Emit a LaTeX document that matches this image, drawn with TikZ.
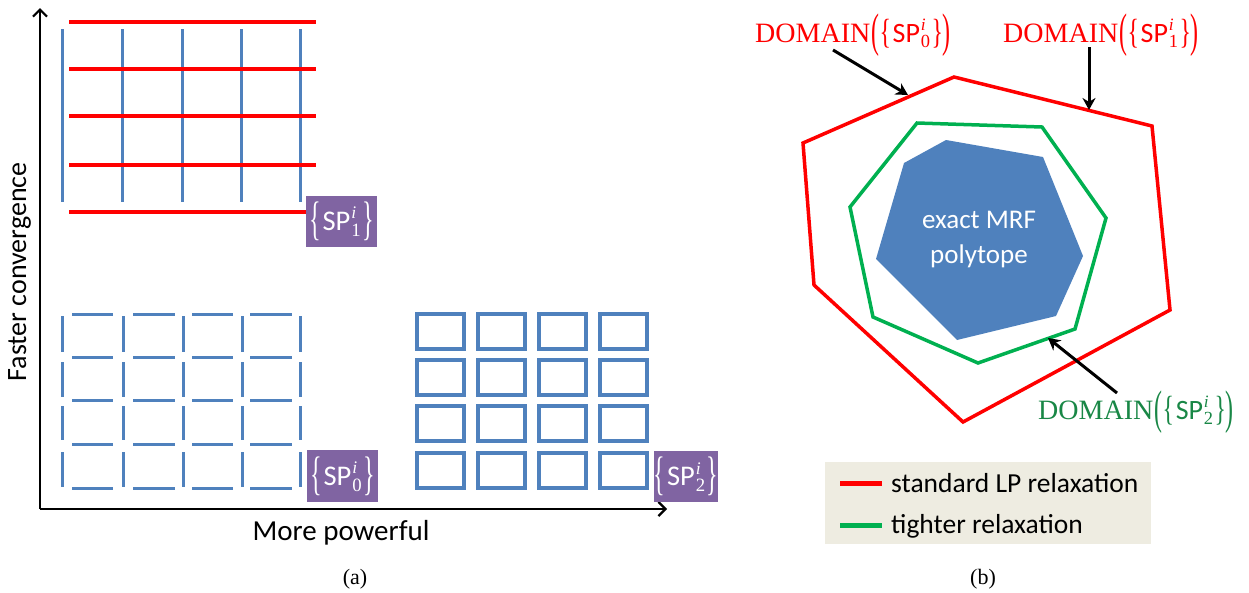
\documentclass[tikz,border=0pt]{standalone}
\usepackage{graphicx}
\usepackage{fontspec}
\setmainfont{Carlito}
\newfontfamily\tnr{Liberation Serif}
\usetikzlibrary{arrows.meta}
\definecolor{sred}{RGB}{255,0,0}
\definecolor{sblue}{RGB}{79,129,189}
\definecolor{spurple}{RGB}{128,100,162}
\definecolor{sgreen}{RGB}{0,176,80}
\definecolor{tgreen}{RGB}{25,135,70}
\definecolor{lgbg}{RGB}{238,236,225}
% stacked super/subscript
\newcommand\stk[1]{\rlap{\raisebox{0.42em}{\scalebox{0.62}{\tnr\itshape i}}}\raisebox{-0.2em}{\scalebox{0.66}{\tnr #1}}}
% tall thin delimiter: #1 vertical scale, #2 lowering, #3 glyph
\newcommand\tdel[3]{\raisebox{-#2em}{\scalebox{0.85}[#1]{\tnr #3}}}
% {SP_k^i} with brace scale #1, brace lowering #2, index #3
\newcommand\spin[3]{\tdel{#1}{#2}{\{}\kern0.06em SP\kern0.03em\stk{#3}\kern0.05em\tdel{#1}{#2}{\}}}
\newcommand\spset[1]{\spin{1.65}{0.13}{#1}}
\newcommand\domain[1]{{\tnr DOMAIN}\kern0.05em\tdel{1.68}{0.17}{(}\spin{1.25}{0.06}{#1}\tdel{1.68}{0.17}{)}}
\begin{document}
\begin{tikzpicture}[x=1pt,y=-1pt,
  every node/.style={font=\fontsize{27}{32}\selectfont, inner sep=0pt},
  redline/.style={draw=sred, line width=3.5pt},
  blueline/.style={draw=sblue, line width=3pt},
  boxline/.style={draw=sblue, line width=3.2pt},
  axisline/.style={draw=black, line width=2.2pt, -{Straight Barb[length=7pt,width=14pt,line width=2.2pt]}},
  callout/.style={draw=black, line width=3pt, -{Stealth[length=12pt,width=13pt]}},
  spbox/.style={fill=spurple, text=white, font=\fontsize{28.5}{34}\selectfont},
  domlabel/.style={anchor=base west, font=\fontsize{28}{32}\selectfont},
  legtext/.style={anchor=base west, font=\fontsize{27.5}{32}\selectfont},
  caption/.style={font=\tnr\fontsize{22}{26}\selectfont, anchor=base},
]
\useasboundingbox (0,0) rectangle (1249,592);

% ---------- panel (a) ----------
\coordinate (origin) at (40,509);
\coordinate (ytip) at (40,8);
\coordinate (xtip) at (667,509);
\draw[axisline] (origin) -- (ytip);
\draw[axisline] (origin) -- (xtip);
\node[rotate=90, anchor=base, font=\fontsize{28}{32}\selectfont] (ylab) at (26,272) {Faster convergence};
\node[anchor=base, font=\fontsize{29}{32}\selectfont] (xlab) at (341,540) {More powerful};

% top grid (SP1)
\foreach \x in {62,122,182,241,300} \draw[blueline] (\x,29) -- (\x,202);
\foreach \y in {22,69,116,165,212} \draw[redline] (69,\y) -- (316,\y);
\node[spbox, minimum width=71pt, minimum height=51pt] (sp1) at (341.5,221.5) {\spset{1}};

% dashed grid (SP0)
\foreach \y in {314,357,400,444,488}
  \foreach \a/\b in {72/113,133/175,192/233,250/292}
    \draw[blueline] (\a,\y) -- (\b,\y);
\foreach \x in {62,123,183,242,300}
  \foreach \a/\b in {316/352,362/397,406/440,452/487}
    \draw[blueline] (\x,\a) -- (\x,\b);
\node[spbox, minimum width=71pt, minimum height=52pt] (sp0) at (342.5,476) {\spset{0}};

% boxes (SP2)
\foreach \x in {417,478,539,600}
  \foreach \y in {314,360,406,453}
    \draw[boxline] (\x,\y) rectangle ++(47,35);
\node[spbox, minimum width=62pt, minimum height=51pt] (sp2) at (686,476.5) {\spset{2}};

\node[caption] (capa) at (355,584) {(a)};

% ---------- panel (b) ----------
\draw[redline, line width=3.5pt, line join=miter]
  (954,77) -- (1152,126) -- (1170,310) -- (963,422) -- (814,285) -- (803,143) -- cycle;
\draw[draw=sgreen, line width=3.5pt, line join=miter]
  (917,123) -- (1042,127) -- (1106,218) -- (1075,329) -- (978,363) -- (873,317) -- (850,207) -- cycle;
\fill[sblue]
  (946,140) -- (1043,157) -- (1083,256) -- (1056,316) -- (957,340) -- (876,259) -- (904,163) -- cycle;
\node[anchor=base, text=white] (mrf1) at (979,228) {exact MRF};
\node[anchor=base, text=white] (mrf2) at (979,263) {polytope};

\node[domlabel, text=sred] (dom0) at (755,42) {\domain{0}};
\node[domlabel, text=sred] (dom1) at (1003,42) {\domain{1}};
\node[domlabel, text=tgreen] (dom2) at (1038,419) {\domain{2}};

\coordinate (a0s) at (833,50);
\coordinate (a0e) at (908,95);
\coordinate (a1s) at (1089,47);
\coordinate (a1e) at (1089,110);
\coordinate (a2s) at (1117,393);
\coordinate (a2e) at (1048,338);
\draw[callout] (a0s) -- (a0e);
\draw[callout] (a1s) -- (a1e);
\draw[callout] (a2s) -- (a2e);

% legend
\node[fill=lgbg, minimum width=326pt, minimum height=82pt] (legend) at (988,503) {};
\coordinate (l1a) at (840,483); \coordinate (l1b) at (882,483);
\coordinate (l2a) at (840,525); \coordinate (l2b) at (882,525);
\draw[draw=sred, line width=5pt] (l1a) -- (l1b);
\draw[draw=sgreen, line width=5pt] (l2a) -- (l2b);
\node[legtext] (lt1) at (891,492) {standard LP relaxation};
\node[legtext] (lt2) at (891,533) {tighter relaxation};

\node[caption] (capb) at (983,584) {(b)};
\end{tikzpicture}
\end{document}
